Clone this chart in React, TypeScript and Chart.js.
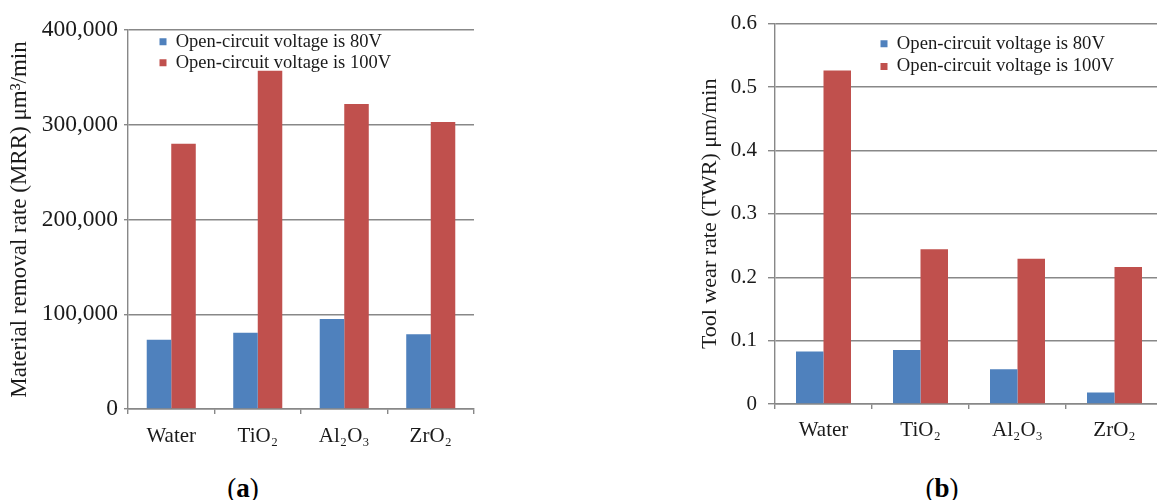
import React, { useEffect, useRef } from "react";
import { Chart, registerables } from "chart.js";

Chart.register(...registerables);

const categories = ["Water", "TiO\u2082", "Al\u2082O\u2083", "ZrO\u2082"];
const seriesLabels = ["Open-circuit voltage is 80V", "Open-circuit voltage is 100V"];
const mrr80 = [73000, 80500, 95000, 79000];
const mrr100 = [280000, 357000, 322000, 303000];
const twr80 = [0.083, 0.085, 0.055, 0.018];
const twr100 = [0.526, 0.244, 0.229, 0.216];
const mrrTicks = [0, 100000, 200000, 300000, 400000];
const twrTicks = [0, 0.1, 0.2, 0.3, 0.4, 0.5, 0.6];

const FONT = "'Liberation Serif', 'Times New Roman', serif";
const BLUE = "#4F81BD";
const RED = "#C0504D";
const GRID = "#888888";
const TEXT = "#1a1a1a";

const legendMover = {
  id: "legendMover",
  afterLayout(chart: any, _args: any, opts: any) {
    const L = chart.legend;
    if (!L || !opts || opts.x === undefined) return;
    const w = L.width;
    const h = L.height;
    L.left = opts.x;
    L.top = opts.y;
    L.right = opts.x + w;
    L.bottom = opts.y + h;
    if (L.adjustHitBoxes) L.adjustHitBoxes();
  },
};

type Cfg = {
  data80: number[];
  data100: number[];
  ticks: number[];
  yTitle: string;
  yTitleFont: number;
  yWidth: number;
  xHeight: number;
  padTop: number;
  padRight: number;
  titlePad: number;
  tickFont: number;
  tickLen: number;
  tickPad: number;
  xTickPad: number;
  legendFont: number;
  legendPad: number;
  legendX: number;
  legendY: number;
  fmt: (v: number) => string;
};

function BarChart({ cfg, width, height }: { cfg: Cfg; width: number; height: number }) {
  const ref = useRef<HTMLCanvasElement | null>(null);
  useEffect(() => {
    if (!ref.current) return;
    const ticks = cfg.ticks;
    const chart = new Chart(ref.current, {
      type: "bar",
      data: {
        labels: categories,
        datasets: [
          {
            label: seriesLabels[0],
            data: cfg.data80,
            backgroundColor: BLUE,
            borderWidth: 0,
            categoryPercentage: 0.567,
            barPercentage: 1,
          },
          {
            label: seriesLabels[1],
            data: cfg.data100,
            backgroundColor: RED,
            borderWidth: 0,
            categoryPercentage: 0.567,
            barPercentage: 1,
          },
        ],
      },
      options: {
        responsive: false,
        animation: false,
        devicePixelRatio: 1,
        layout: { padding: { top: cfg.padTop, right: cfg.padRight, left: 0, bottom: 0 } },
        plugins: {
          tooltip: { enabled: false },
          legend: {
            display: true,
            position: "chartArea" as any,
            align: "start",
            labels: {
              boxWidth: 7,
              boxHeight: 7,
              padding: cfg.legendPad,
              color: TEXT,
              font: { family: FONT, size: cfg.legendFont },
            },
          },
          legendMover: { x: cfg.legendX, y: cfg.legendY },
        } as any,
        scales: {
          x: {
            grid: {
              display: true,
              drawOnChartArea: false,
              drawTicks: true,
              tickLength: 5,
              color: GRID,
              lineWidth: 1.4,
              offset: true,
            },
            border: { display: true, color: GRID, width: 1.4 },
            ticks: {
              color: TEXT,
              padding: cfg.xTickPad,
              font: { family: FONT, size: 21 },
              maxRotation: 0,
            },
            afterFit: (s: any) => {
              s.height = cfg.xHeight;
            },
          },
          y: {
            min: ticks[0],
            max: ticks[ticks.length - 1],
            afterBuildTicks: (s: any) => {
              s.ticks = ticks.map((v) => ({ value: v }));
            },
            grid: {
              color: GRID,
              lineWidth: 1.4,
              tickLength: cfg.tickLen,
              drawTicks: true,
            },
            border: { display: true, color: GRID, width: 1.4 },
            ticks: {
              color: TEXT,
              padding: cfg.tickPad,
              font: { family: FONT, size: cfg.tickFont },
              callback: (v: any) => cfg.fmt(Number(v)),
            },
            title: {
              display: true,
              text: cfg.yTitle,
              color: TEXT,
              padding: { top: cfg.titlePad, bottom: 0 },
              font: { family: FONT, size: cfg.yTitleFont, lineHeight: 1.2 },
            },
            afterFit: (s: any) => {
              s.width = cfg.yWidth;
            },
          },
        },
      },
      plugins: [legendMover as any],
    });
    return () => chart.destroy();
  }, [cfg, width, height]);
  return (
    <canvas
      ref={ref}
      width={width}
      height={height}
      style={{ display: "block", width: width + "px", height: height + "px" }}
    />
  );
}

const leftCfg: Cfg = {
  data80: mrr80,
  data100: mrr100,
  ticks: mrrTicks,
  yTitle: "Material removal rate (MRR) \u03bcm\u00b3/min",
  yTitleFont: 23,
  yWidth: 128,
  xHeight: 51,
  padTop: 30,
  padRight: 16,
  titlePad: 6,
  tickFont: 23.5,
  tickLen: 4,
  tickPad: 6,
  xTickPad: 10,
  legendFont: 18.5,
  legendPad: 2.5,
  legendX: 157,
  legendY: 30,
  fmt: (v) => v.toLocaleString("en-US"),
};

const rightCfg: Cfg = {
  data80: twr80,
  data100: twr100,
  ticks: twrTicks,
  yTitle: "Tool wear rate (TWR) \u03bcm/min",
  yTitleFont: 22,
  yWidth: 95,
  xHeight: 56,
  padTop: 21,
  padRight: 0,
  titlePad: 17,
  tickFont: 21,
  tickLen: 7,
  tickPad: 11,
  xTickPad: 9,
  legendFont: 18.7,
  legendPad: 4,
  legendX: 196.5,
  legendY: 30.5,
  fmt: (v) => (v === 0 ? "0" : v.toFixed(1)),
};

export default function App() {
  const caption: React.CSSProperties = {
    position: "absolute",
    width: 100,
    top: 473,
    height: 30,
    lineHeight: "30px",
    textAlign: "center",
    fontFamily: FONT,
    fontSize: 27,
    color: "#000",
  };
  return (
    <div
      style={{
        position: "absolute",
        left: 0,
        top: 0,
        width: 1157,
        height: 500,
        overflow: "hidden",
        background: "#fff",
      }}
    >
      <div style={{ position: "absolute", left: 0, top: 0 }}>
        <BarChart cfg={leftCfg} width={490} height={460} />
      </div>
      <div style={{ position: "absolute", left: 680, top: 0, width: 477, height: 460, overflow: "hidden" }}>
        <BarChart cfg={rightCfg} width={483} height={460} />
      </div>
      <div style={{ ...caption, left: 193 }}>
        (<b>a</b>)
      </div>
      <div style={{ ...caption, left: 892 }}>
        (<b>b</b>)
      </div>
    </div>
  );
}
